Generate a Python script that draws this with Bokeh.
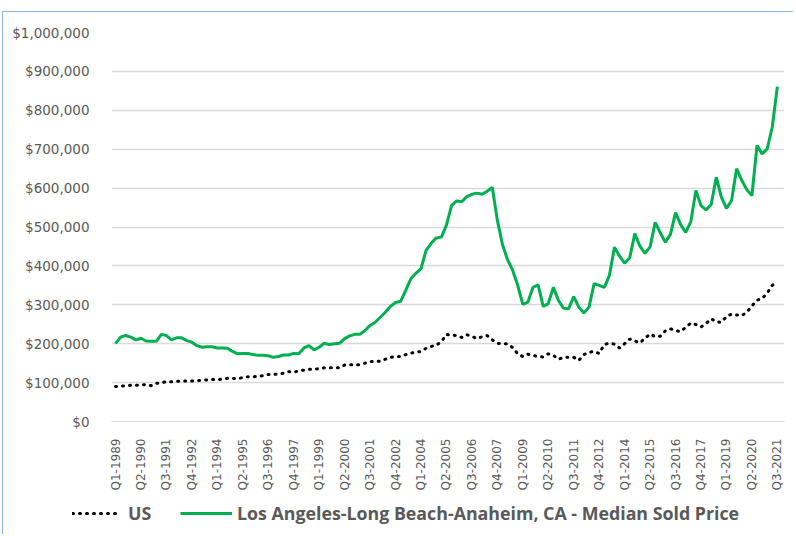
import math
from bokeh.plotting import figure
from bokeh.layouts import column
from bokeh.models import (ColumnDataSource, Range1d, FixedTicker, NumeralTickFormatter,
                          Legend, LegendItem)
from bokeh.embed import file_html
from bokeh.resources import INLINE

# ---- data (thousands of dollars, quarterly Q1-1989 .. Q3-2021) ----
years = list(range(1989, 2022))
quarters = [f"Q{q}-{y}" for y in years for q in (1, 2, 3, 4)][:131]

us_k = [90, 91, 92, 93, 93, 94, 95, 92, 98, 100,
        102, 102, 103, 104, 104, 104, 105, 106, 107, 108,
        107, 109, 111, 111, 110, 113, 115, 115, 116, 118,
        121, 121, 122, 124, 128, 127, 130, 132, 134, 134,
        136, 138, 138, 138, 138, 145, 146, 146, 146, 150,
        154, 154, 155, 160, 165, 167, 167, 172, 176, 178,
        180, 188, 193, 196, 205, 224, 222, 221, 216, 223,
        219, 213, 218, 221, 210, 201, 200, 200, 190, 174,
        167, 173, 170, 167, 166, 174, 170, 160, 165, 165,
        165, 157, 172, 178, 180, 175, 198, 201, 199, 189,
        200, 212, 207, 202, 214, 225, 218, 219, 233, 238,
        234, 231, 242, 253, 249, 243, 252, 264, 256, 255,
        270, 276, 274, 272, 281, 297, 312, 316, 330, 350,
        360]

la_k = [200, 217, 221, 217, 210, 214, 207, 206, 206, 224,
        221, 210, 215, 215, 208, 204, 195, 191, 192, 192,
        189, 189, 188, 180, 174, 175, 175, 172, 170, 170,
        169, 165, 167, 171, 171, 175, 174, 189, 195, 184,
        191, 201, 198, 200, 201, 213, 220, 224, 224, 234,
        247, 255, 268, 281, 296, 306, 309, 337, 367, 381,
        393, 440, 458, 472, 474, 505, 555, 567, 565, 578,
        584, 587, 584, 592, 602, 517, 455, 416, 389, 350,
        301, 307, 345, 351, 296, 303, 345, 311, 291, 290,
        321, 294, 279, 294, 354, 350, 345, 375, 448, 425,
        407, 421, 483, 451, 432, 449, 512, 485, 461, 481,
        537, 506, 486, 514, 594, 555, 544, 558, 628, 577,
        548, 568, 650, 620, 596, 581, 710, 688, 701, 757,
        861]

us_label = "US"
la_label = "Los Angeles-Long Beach-Anaheim, CA - Median Sold Price"
y_ticks = list(range(0, 1000001, 100000))
x_tick_idx = list(range(0, 131, 5))

idx = list(range(len(quarters)))
src = ColumnDataSource(dict(
    i=idx,
    us=[v * 1000 for v in us_k],
    la=[v * 1000 for v in la_k],
))

GREY = "#595959"
GRID = "#d9d9d9"
GREEN = "#00b050"

US_STYLE = dict(line_color="black", line_width=3, line_dash="1 6", line_cap="round")
LA_STYLE = dict(line_color=GREEN, line_width=3)

p = figure(width=790, height=483, output_backend="svg", toolbar_location=None,
           x_range=Range1d(-0.79, 131.4), y_range=Range1d(0, 1000000),
           min_border_left=108, min_border_right=9, min_border_top=20,
           min_border_bottom=74, outline_line_color=None)
p.frame_align = False

p.line("i", "la", source=src, **LA_STYLE)
p.line("i", "us", source=src, **US_STYLE)

# y axis
p.yaxis.ticker = FixedTicker(ticks=y_ticks)
p.yaxis.formatter = NumeralTickFormatter(format="$0,0")
p.yaxis.axis_line_color = None
p.yaxis.major_tick_line_color = None
p.yaxis.minor_tick_line_color = None
p.yaxis.major_label_standoff = 16
p.yaxis.major_label_text_font = "DejaVu Sans"
p.yaxis.major_label_text_font_size = "13.5px"
p.yaxis.major_label_text_color = GREY

# x axis
p.xaxis.ticker = FixedTicker(ticks=x_tick_idx)
p.xaxis.major_label_overrides = {i: quarters[i] for i in x_tick_idx}
p.xaxis.major_label_orientation = math.pi / 2
p.xaxis.axis_line_color = GRID
p.xaxis.major_tick_line_color = None
p.xaxis.minor_tick_line_color = None
p.xaxis.major_label_standoff = 11
p.xaxis.major_label_text_font = "DejaVu Sans"
p.xaxis.major_label_text_font_size = "12px"
p.xaxis.major_label_text_color = GREY

p.xgrid.grid_line_color = None
p.ygrid.ticker = FixedTicker(ticks=y_ticks)
p.ygrid.grid_line_color = GRID
p.ygrid.grid_line_width = 1.3

# legend strip below the chart (series lines lie outside its tiny range,
# they only provide the legend samples)
lg = figure(width=790, height=39, output_backend="svg", toolbar_location=None,
            x_range=Range1d(0, 790), y_range=Range1d(0, 39),
            min_border=0, outline_line_color=None)
lg.frame_align = False
lg.axis.visible = False
lg.grid.visible = False
l_us = lg.line("i", "us", source=src, **US_STYLE)
l_la = lg.line("i", "la", source=src, **LA_STYLE)

common = dict(orientation="horizontal", padding=0, margin=0,
              glyph_height=20, label_height=20,
              border_line_color=None, background_fill_alpha=0,
              label_text_font="Open Sans", label_text_font_style="bold",
              label_text_font_size="17.8px", label_text_color=GREY)
leg_us = Legend(items=[LegendItem(label=us_label, renderers=[l_us])],
                location=(69, 9), glyph_width=48, label_standoff=8, **common)
leg_la = Legend(items=[LegendItem(label=la_label, renderers=[l_la])],
                location=(177, 9), glyph_width=52, label_standoff=5, **common)
lg.add_layout(leg_us, "center")
lg.add_layout(leg_la, "center")

layout = column(p, lg, spacing=0)
layout.styles = {"margin-left": "2px", "margin-top": "11px",
                 "border-top": "1px solid #8fb4de",
                 "border-left": "1px solid #8fb4de"}

open("out.html", "w").write(file_html(layout, INLINE))
